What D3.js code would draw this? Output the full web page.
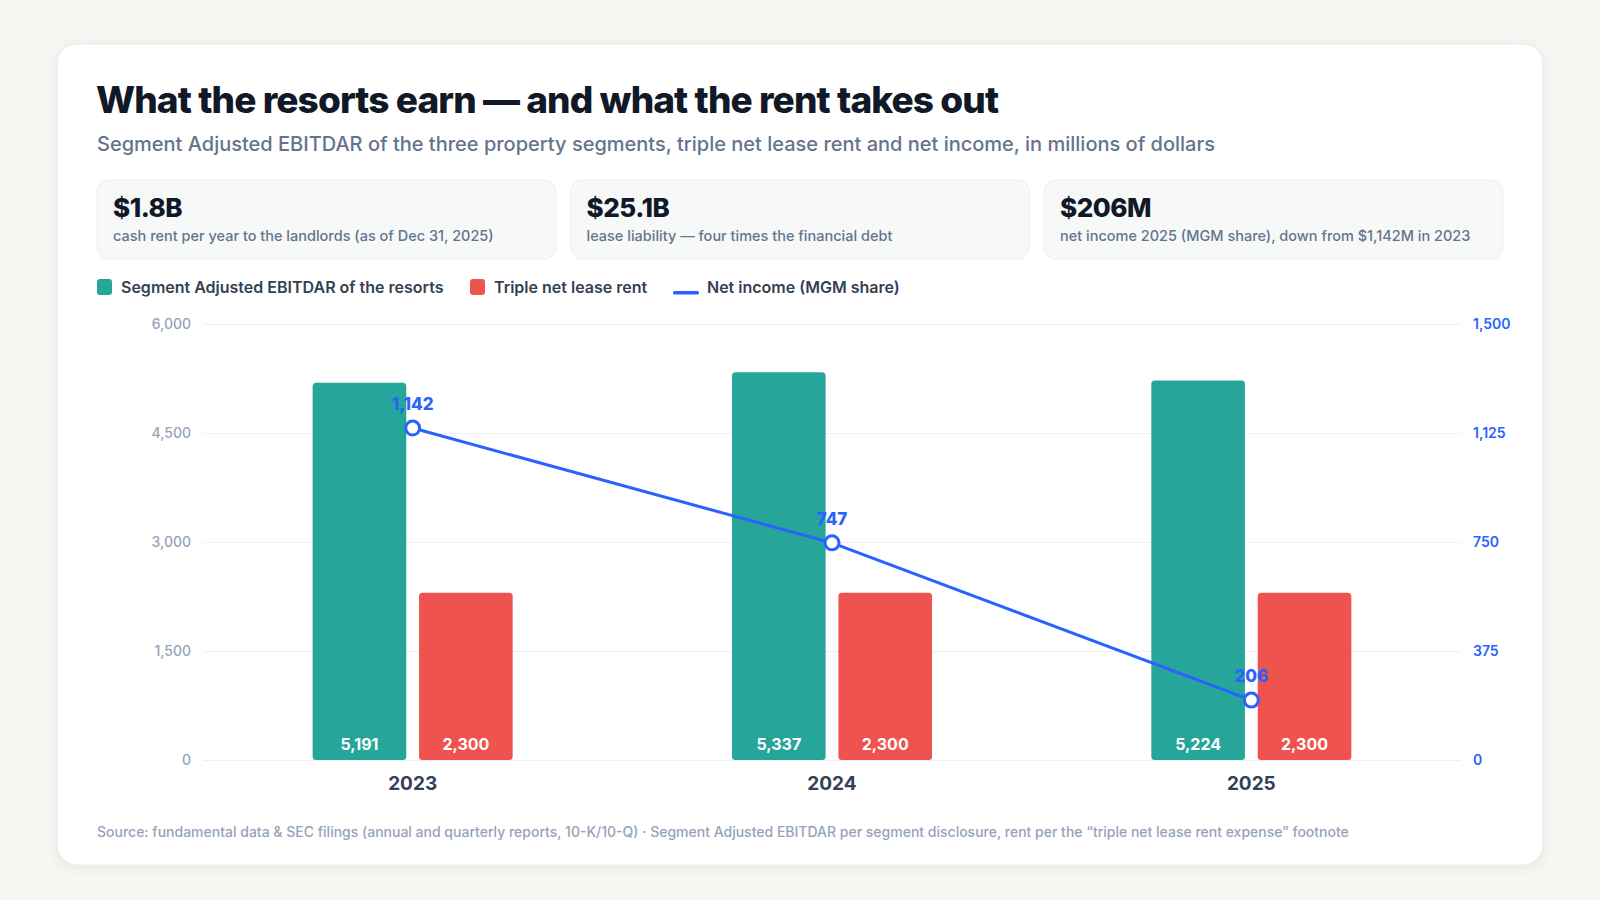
<!DOCTYPE html>
<html>
<head>
<meta charset="utf-8">
<script src="https://cdn.jsdelivr.net/npm/d3@7"></script>
<style>
  html, body { margin: 0; padding: 0; background: #f7f6f3; }
  svg { display: block; font-family: Inter, "Noto Sans", sans-serif; }
  .axis { font-family: Inter, "Noto Sans", sans-serif; }
  .axis .domain { display: none; }
  .axis-left text { fill: #94a3b8; font-size: 14px; font-weight: 500; }
  .axis-right text { fill: #2962ff; font-size: 14px; font-weight: 600; }
  .axis-left line { stroke: #eef0f3; }
</style>
</head>
<body>
<svg id="chart" width="1600" height="900"></svg>
<script>
// Data
var years = ['2023', '2024', '2025'];
var ebitdar = [5191, 5337, 5224];
var rent = [2300, 2300, 2300];
var netIncome = [1142, 747, 206];

var leftTicks = [0, 1500, 3000, 4500, 6000];
var rightTicks = [0, 375, 750, 1125, 1500];

var kpiValues = ['$1.8B', '$25.1B', '$206M'];
var kpiLabels = [
    'cash rent per year to the landlords (as of Dec 31, 2025)',
    'lease liability \u2014 four times the financial debt',
    'net income 2025 (MGM share), down from $1,142M in 2023'
];

var seriesNames = ['Segment Adjusted EBITDAR of the resorts', 'Triple net lease rent', 'Net income (MGM share)'];
var colors = { ebitdar: '#26a69a', rent: '#ef5350', line: '#2962ff' };

var svg = d3.select('#chart');

// Shadow for the card
var defs = svg.append('defs');
var shadow = defs.append('filter').attr('id', 'shadow')
    .attr('x', '-5%').attr('y', '-5%').attr('width', '110%').attr('height', '112%');
shadow.append('feDropShadow')
    .attr('dx', 0).attr('dy', 2).attr('stdDeviation', 6)
    .attr('flood-color', '#0f172a').attr('flood-opacity', 0.07);

// Card
svg.append('rect')
    .attr('x', 57).attr('y', 44)
    .attr('width', 1486).attr('height', 821)
    .attr('rx', 20)
    .attr('fill', '#ffffff')
    .attr('stroke', '#e8eaee')
    .attr('filter', 'url(#shadow)');

// Title and subtitle
svg.append('text')
    .attr('x', 96).attr('y', 113)
    .attr('fill', '#111827')
    .style('font-size', '37px')
    .style('font-weight', 800)
    .style('letter-spacing', '-0.9px')
    .text('What the resorts earn \u2014 and what the rent takes out');

svg.append('text')
    .attr('x', 97).attr('y', 151)
    .attr('fill', '#64748b')
    .style('font-size', '20px')
    .style('font-weight', 500)
    .text('Segment Adjusted EBITDAR of the three property segments, triple net lease rent and net income, in millions of dollars');

// KPI boxes
var kpiW = 459, kpiGap = 14.5;
var kpi = svg.selectAll('.kpi')
    .data(kpiValues)
    .enter()
    .append('g')
    .attr('class', 'kpi')
    .attr('transform', (d, i) => 'translate(' + [97 + i * (kpiW + kpiGap), 180] + ')');

kpi.append('rect')
    .attr('width', kpiW).attr('height', 79)
    .attr('rx', 12)
    .attr('fill', '#f7f9f9')
    .attr('stroke', '#eceef1');

kpi.append('text')
    .attr('x', 16).attr('y', 37)
    .attr('fill', '#111827')
    .style('font-size', '26px')
    .style('font-weight', 800)
    .style('letter-spacing', '-0.5px')
    .text(d => d);

kpi.append('text')
    .attr('x', 16).attr('y', 61)
    .attr('fill', '#64748b')
    .style('font-size', '14.5px')
    .style('font-weight', 500)
    .text((d, i) => kpiLabels[i]);

// Legend
var legend = svg.append('g').attr('transform', 'translate(0, 287)');
var legendX = [97, 470, 673];
seriesNames.forEach(function (name, i) {
    var g = legend.append('g').attr('transform', 'translate(' + legendX[i] + ',0)');
    if (i < 2) {
        g.append('rect')
            .attr('x', 0).attr('y', -8)
            .attr('width', 15).attr('height', 16)
            .attr('rx', 3)
            .attr('fill', i === 0 ? colors.ebitdar : colors.rent);
        g.append('text')
            .attr('x', 24).attr('y', 6)
            .attr('fill', '#334155')
            .style('font-size', '16px')
            .style('font-weight', 600)
            .text(name);
    } else {
        g.append('rect')
            .attr('x', 0).attr('y', 4)
            .attr('width', 26).attr('height', 3.5)
            .attr('rx', 1.5)
            .attr('fill', colors.line);
        g.append('text')
            .attr('x', 34).attr('y', 6)
            .attr('fill', '#334155')
            .style('font-size', '16px')
            .style('font-weight', 600)
            .text(name);
    }
});

// Plot area
var plot = { l: 203, r: 1461, t: 324, b: 760 };

var x0 = d3.scaleBand()
    .domain(years)
    .range([plot.l, plot.r])
    .paddingInner(0.523)
    .paddingOuter(0.2615);

var x1 = d3.scaleBand()
    .domain(['ebitdar', 'rent'])
    .range([0, x0.bandwidth()])
    .paddingInner(0.12);

var yLeft = d3.scaleLinear().domain([0, 6000]).range([plot.b, plot.t]);
var yRight = d3.scaleLinear().domain([0, 1500]).range([plot.b, plot.t]);

// Left axis with gridlines
svg.append('g')
    .attr('class', 'axis axis-left')
    .attr('transform', 'translate(' + plot.l + ',0)')
    .call(d3.axisLeft(yLeft)
        .tickValues(leftTicks)
        .tickSize(-(plot.r - plot.l))
        .tickPadding(12)
        .tickFormat(d3.format(',')))
    .attr('font-family', null)
    .attr('font-size', null);

// Right axis
svg.append('g')
    .attr('class', 'axis axis-right')
    .attr('transform', 'translate(' + plot.r + ',0)')
    .call(d3.axisRight(yRight)
        .tickValues(rightTicks)
        .tickSize(0)
        .tickPadding(12)
        .tickFormat(d3.format(',')))
    .attr('font-family', null)
    .attr('font-size', null);

// Bars
var barData = [];
years.forEach(function (y, i) {
    barData.push({ year: y, key: 'ebitdar', value: ebitdar[i] });
    barData.push({ year: y, key: 'rent', value: rent[i] });
});

var bars = svg.append('g').attr('class', 'bars');

bars.selectAll('.bar')
    .data(barData)
    .enter()
    .append('rect')
    .attr('class', 'bar')
    .attr('x', d => x0(d.year) + x1(d.key))
    .attr('y', d => yLeft(d.value))
    .attr('width', x1.bandwidth())
    .attr('height', d => yLeft(0) - yLeft(d.value))
    .attr('rx', 3.5)
    .attr('fill', d => colors[d.key]);

bars.selectAll('.bar-label')
    .data(barData)
    .enter()
    .append('text')
    .attr('class', 'bar-label')
    .attr('x', d => x0(d.year) + x1(d.key) + x1.bandwidth() / 2)
    .attr('y', yLeft(0) - 10)
    .attr('text-anchor', 'middle')
    .attr('fill', '#ffffff')
    .style('font-size', '16px')
    .style('font-weight', 700)
    .text(d => d3.format(',')(d.value));

// Year labels
svg.selectAll('.year-label')
    .data(years)
    .enter()
    .append('text')
    .attr('class', 'year-label')
    .attr('x', d => x0(d) + x0.bandwidth() / 2)
    .attr('y', 790)
    .attr('text-anchor', 'middle')
    .attr('fill', '#334155')
    .style('font-size', '19px')
    .style('font-weight', 700)
    .text(d => d);

// Net income line
var lineData = years.map((y, i) => ({ year: y, value: netIncome[i] }));
var cx = d => x0(d.year) + x0.bandwidth() / 2;

svg.append('path')
    .datum(lineData)
    .attr('fill', 'none')
    .attr('stroke', colors.line)
    .attr('stroke-width', 3)
    .attr('d', d3.line().x(cx).y(d => yRight(d.value)));

svg.selectAll('.dot')
    .data(lineData)
    .enter()
    .append('circle')
    .attr('class', 'dot')
    .attr('cx', cx)
    .attr('cy', d => yRight(d.value))
    .attr('r', 7)
    .attr('fill', '#ffffff')
    .attr('stroke', colors.line)
    .attr('stroke-width', 3);

svg.selectAll('.dot-label')
    .data(lineData)
    .enter()
    .append('text')
    .attr('class', 'dot-label')
    .attr('x', cx)
    .attr('y', d => yRight(d.value) - 18)
    .attr('text-anchor', 'middle')
    .attr('fill', colors.line)
    .style('font-size', '17px')
    .style('font-weight', 800)
    .text(d => d3.format(',')(d.value));

// Source
svg.append('text')
    .attr('x', 97).attr('y', 837)
    .attr('fill', '#94a3b8')
    .style('font-size', '14px')
    .style('font-weight', 500)
    .text('Source: fundamental data & SEC filings (annual and quarterly reports, 10-K/10-Q) \u00b7 Segment Adjusted EBITDAR per segment disclosure, rent per the \u201ctriple net lease rent expense\u201d footnote');
</script>
</body>
</html>
